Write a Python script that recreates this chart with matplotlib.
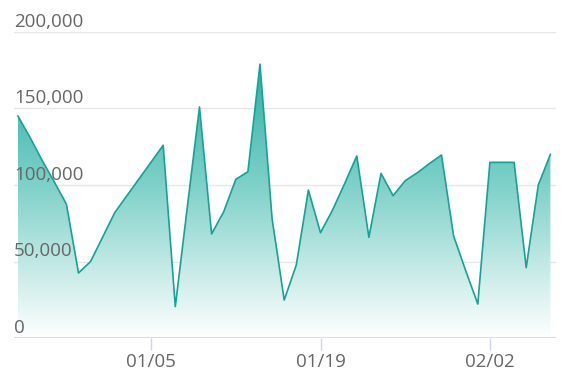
import numpy as np
import matplotlib.pyplot as plt
from matplotlib.colors import LinearSegmentedColormap

plt.rcParams['font.family'] = ['Open Sans', 'DejaVu Sans']

# daily values, 12/25 .. 02/07
values = [145000, 131000, 116000, 102000, 87500, 42500, 50000, 66000, 82000, 93000,
          104000, 115000, 126000, 20500, 86000, 151000, 68000, 82500, 103700, 108700,
          179000, 78000, 24800, 47700, 96700, 68800, 83700, 101000, 119000, 65800,
          107600, 93000, 102800, 108000, 114000, 119600, 66700, 44000, 22200, 114800,
          114800, 114800, 46000, 100000, 120000]
days = np.arange(len(values))
tick_days = [11, 25, 39]
tick_labels = ['01/05', '01/19', '02/02']
y_ticks = [0, 50000, 100000, 150000, 200000]
y_labels = ['0', '50,000', '100,000', '150,000', '200,000']

line_color = '#13a397'
grid_color = '#e6e6e6'
axis_color = '#ccd6eb'
text_color = '#666666'

W, H = 573, 388
fig = plt.figure(figsize=(W / 100, H / 100), dpi=100)
left, right, bottom, top = 14, 556, 338, 32
ax = fig.add_axes([left / W, 1 - bottom / H, (right - left) / W, (bottom - top) / H])

px_per_day = 12.1
ax.set_xlim((left - 18) / px_per_day, (right - 18) / px_per_day)
ax.set_ylim(0, 200000)

# gradient fill clipped to the area under the line
cmap = LinearSegmentedColormap.from_list('g', ['#ffffff', '#7fd1c9', '#16a89c'])
grad = np.linspace(0, 1, 256).reshape(-1, 1)
img = ax.imshow(grad, cmap=cmap, aspect='auto', origin='lower',
                extent=[days[0], days[-1], 0, 200000], zorder=1)
poly = ax.fill_between(days, values, 0, color='none', lw=0)
clip = poly.get_paths()[0]
img.set_clip_path(clip, transform=ax.transData)
ax.plot(days, values, color=line_color, lw=1.2, zorder=3)

for v in y_ticks[1:]:
    ax.axhline(v, color=grid_color, lw=1, zorder=0)
ax.axhline(0, color=axis_color, lw=1.2, zorder=4)

for v, lab in zip(y_ticks, y_labels):
    ax.annotate(lab, (0, v), xycoords=('axes fraction', 'data'), xytext=(0, 1),
                textcoords='offset points', ha='left', va='bottom',
                fontsize=13.5, color=text_color)

ax.set_xticks(tick_days)
ax.set_xticklabels(tick_labels, fontsize=13.5, color=text_color)
ax.tick_params(axis='x', length=8.5, width=1, color=axis_color, pad=2)
ax.set_yticks([])
for s in ax.spines.values():
    s.set_visible(False)

fig.savefig('out.png', dpi=100)
